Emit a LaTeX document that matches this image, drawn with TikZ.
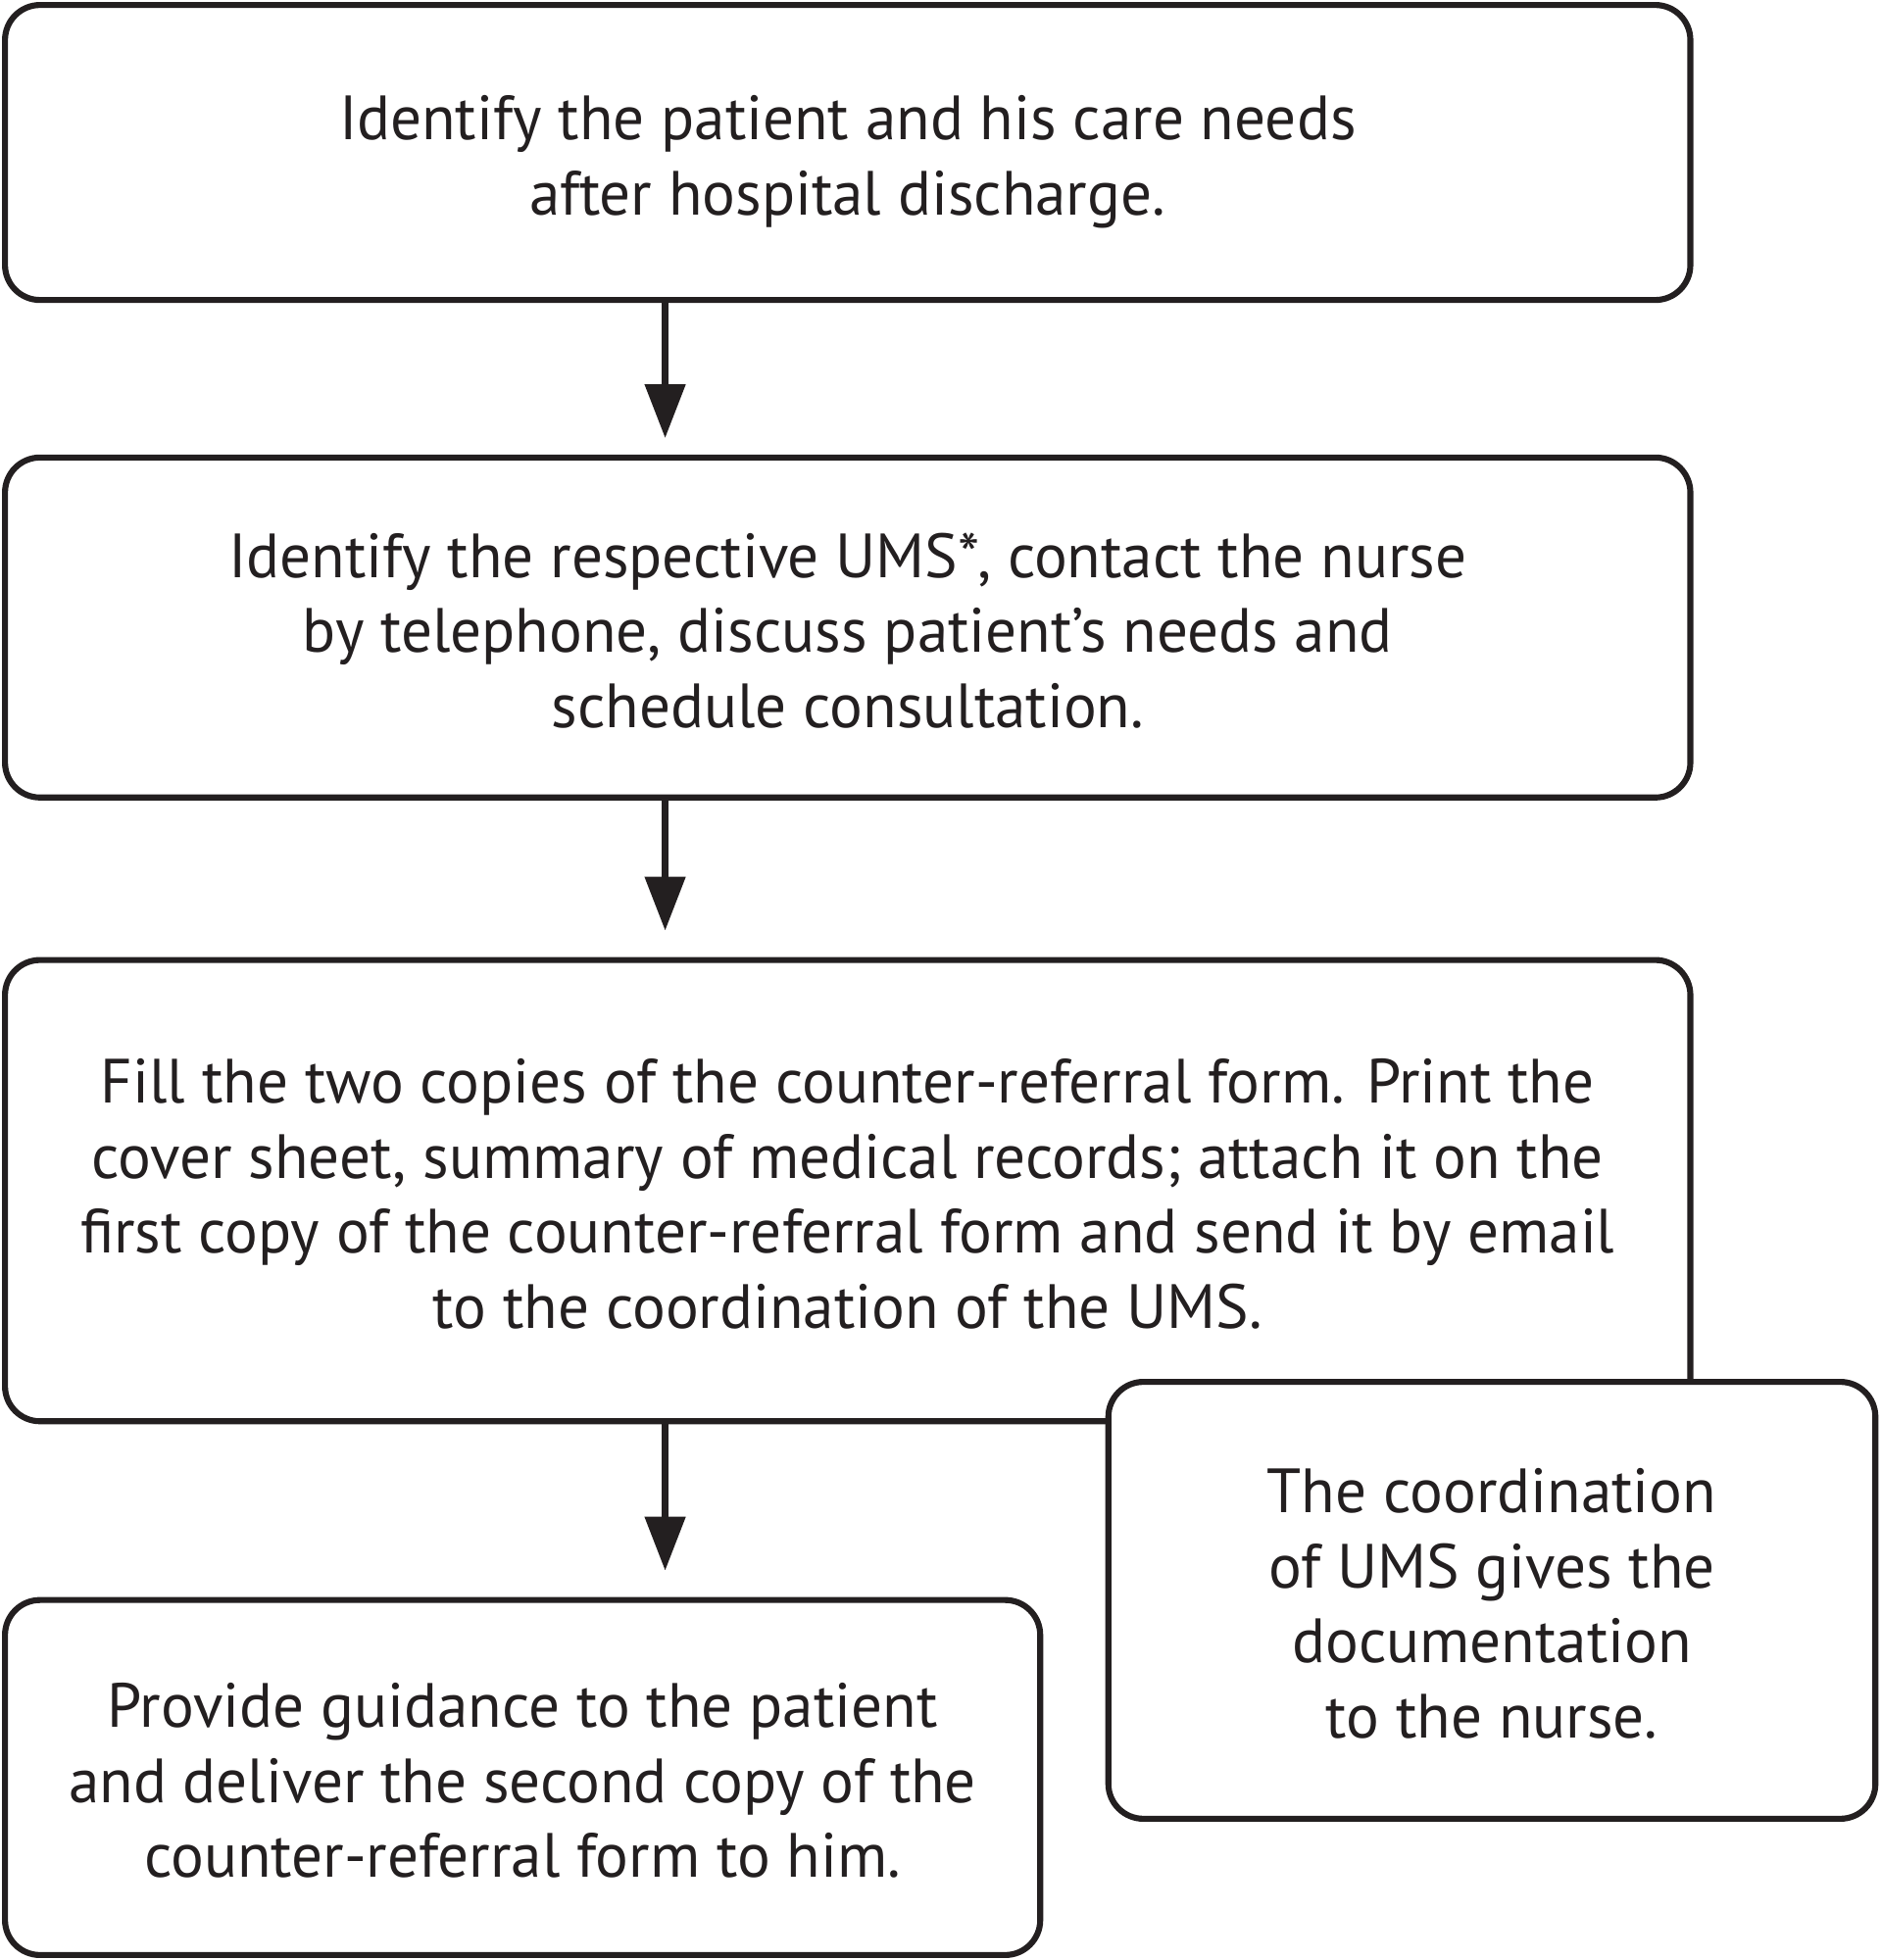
\documentclass[tikz,border=0pt]{standalone}
\usepackage{fontspec}
\setmainfont{PT Sans}[FakeStretch=0.99]
\usetikzlibrary{arrows.meta}
\definecolor{ink}{HTML}{231F20}
\newcommand{\topstr}{\rule{0pt}{30pt}}
\newcommand{\botstr}{\rule[-10pt]{0pt}{10pt}}
\tikzset{
  stepbox/.style={draw=ink, line width=2.4pt, rounded corners=14pt, fill=white,
    inner sep=0pt, align=center, text=ink,
    font=\fontsize{25}{30}\selectfont},
  flowarrow/.style={draw=ink, line width=3pt,
    -{Triangle[width=15.7pt,length=21.6pt]}}
}
\begin{document}
\begin{tikzpicture}[x=0.5pt,y=-0.5pt]
\useasboundingbox (0,0) rectangle (1504,1568);
\node[stepbox, minimum width=674pt, minimum height=118pt] (b1) at (678,122)
  {\topstr Identify the patient and his care needs\\after hospital discharge.\botstr};
\node[stepbox, minimum width=674pt, minimum height=136pt] (b2) at (678,502)
  {\topstr Identify the respective UMS*, contact the nurse\\by telephone, discuss patient’s needs and\\schedule consultation.\botstr};
\node[stepbox, minimum width=674pt, minimum height=184.5pt] (b3) at (678,952.5)
  {\topstr Fill the two copies of the counter-referral form. Print the\\cover sheet, summary of medical records; attach it on the\\first copy of the counter-referral form and send it by email\\to the coordination of the UMS.\botstr};
\node[stepbox, minimum width=414pt, minimum height=142pt] (b4) at (418,1422)
  {\topstr Provide guidance to the patient\\and deliver the second copy of the\\counter-referral form to him.\botstr};
\node[stepbox, minimum width=306.75pt, minimum height=174.75pt] (b5) at (1193.25,1280.25)
  {\topstr The coordination\\of UMS gives the\\documentation\\to the nurse.\botstr};
\coordinate (ax) at (532,0);
\draw[flowarrow, shorten >=6.5pt] (b1.south -| ax) -- (b2.north -| ax);
\draw[flowarrow, shorten >=10.5pt] (b2.south -| ax) -- (b3.north -| ax);
\draw[flowarrow, shorten >=10.5pt] (b3.south -| ax) -- (b4.north -| ax);
\end{tikzpicture}
\end{document}
